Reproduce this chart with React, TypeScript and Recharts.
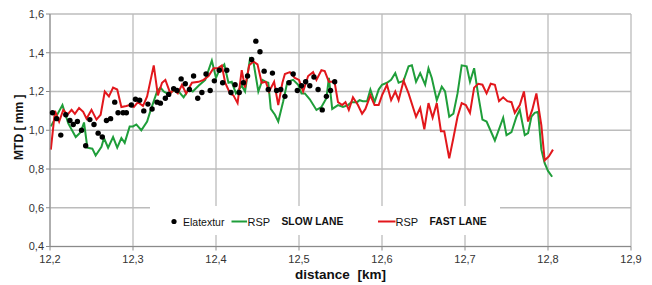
import React from 'react';
import { ComposedChart, Line, Scatter, XAxis, YAxis, CartesianGrid, Legend } from 'recharts';

const FONT = '"Liberation Sans", Arial, sans-serif';

// x-axis / y-axis ticks
const xTicks = [12.2, 12.3, 12.4, 12.5, 12.6, 12.7, 12.8, 12.9];
const yTicks = [0.4, 0.6, 0.8, 1.0, 1.2, 1.4, 1.6];

// RSP SLOW LANE (green)
const slowDist = [
  12.201, 12.215, 12.222, 12.231, 12.237, 12.241, 12.245, 12.251, 12.255, 12.262,
  12.265, 12.270, 12.276, 12.281, 12.286, 12.290, 12.296, 12.300, 12.304, 12.310,
  12.317, 12.321, 12.329, 12.333, 12.337, 12.341, 12.347, 12.353, 12.361, 12.367,
  12.372, 12.379, 12.387, 12.395, 12.400, 12.404, 12.410, 12.415, 12.419, 12.424,
  12.431, 12.435, 12.441, 12.445, 12.451, 12.456, 12.460, 12.463, 12.466, 12.471,
  12.475, 12.481, 12.486, 12.493, 12.499, 12.503, 12.507, 12.513, 12.521, 12.527,
  12.533, 12.536, 12.540, 12.547, 12.553, 12.559, 12.563, 12.570, 12.573, 12.577,
  12.582, 12.586, 12.591, 12.596, 12.600, 12.606, 12.611, 12.616, 12.620, 12.626,
  12.632, 12.636, 12.641, 12.646, 12.652, 12.656, 12.660, 12.666, 12.672, 12.676,
  12.681, 12.686, 12.691, 12.696, 12.702, 12.706, 12.711, 12.716, 12.721, 12.726,
  12.736, 12.746, 12.750, 12.756, 12.762, 12.766, 12.772, 12.776, 12.780, 12.784,
  12.788, 12.792, 12.796, 12.800, 12.805,
];
const slowMtd = [
  1.02, 1.13, 1.035, 0.965, 0.99, 1.04, 0.91, 0.905, 0.87, 0.915,
  0.96, 0.91, 0.965, 0.91, 0.96, 0.935, 1.02, 1.02, 1.03, 1.0,
  1.045, 1.1, 1.2, 1.22, 1.2, 1.19, 1.2, 1.21, 1.17, 1.21,
  1.2, 1.23, 1.26, 1.36, 1.27, 1.31, 1.34, 1.245, 1.25, 1.19,
  1.23, 1.2, 1.37, 1.355, 1.2, 1.26, 1.25, 1.245, 1.11, 1.08,
  1.045, 1.15, 1.25, 1.26, 1.235, 1.19, 1.19, 1.16, 1.105, 1.12,
  1.165, 1.27, 1.11, 1.13, 1.12, 1.13, 1.145, 1.145, 1.155, 1.15,
  1.15, 1.21, 1.145, 1.21, 1.235, 1.245, 1.26, 1.295, 1.245, 1.255,
  1.33, 1.335, 1.25, 1.295, 1.235, 1.32, 1.27, 1.155, 1.225, 1.2,
  1.07, 1.085, 1.19, 1.335, 1.33, 1.25, 1.32, 1.18, 1.055, 1.045,
  0.947, 1.065, 0.975, 0.99, 1.07, 1.105, 0.975, 0.985, 1.07, 1.09,
  1.095, 0.9, 0.83, 0.79, 0.76,
];

// RSP FAST LANE (red)
const fastDist = [
  12.201, 12.206, 12.211, 12.216, 12.221, 12.226, 12.230, 12.235, 12.240, 12.244,
  12.250, 12.256, 12.261, 12.266, 12.271, 12.276, 12.281, 12.286, 12.292, 12.296,
  12.301, 12.306, 12.312, 12.317, 12.325, 12.330, 12.335, 12.339, 12.345, 12.349,
  12.354, 12.359, 12.364, 12.371, 12.379, 12.385, 12.391, 12.397, 12.402, 12.407,
  12.411, 12.417, 12.421, 12.426, 12.431, 12.435, 12.440, 12.445, 12.450, 12.455,
  12.460, 12.464, 12.470, 12.475, 12.480, 12.483, 12.489, 12.495, 12.500, 12.505,
  12.511, 12.517, 12.521, 12.527, 12.531, 12.536, 12.540, 12.543, 12.547, 12.552,
  12.556, 12.560, 12.565, 12.571, 12.576, 12.580, 12.586, 12.591, 12.596, 12.600,
  12.606, 12.611, 12.616, 12.620, 12.626, 12.632, 12.641, 12.646, 12.651, 12.656,
  12.661, 12.666, 12.671, 12.675, 12.681, 12.686, 12.691, 12.696, 12.701, 12.706,
  12.711, 12.716, 12.721, 12.726, 12.731, 12.736, 12.741, 12.746, 12.751, 12.756,
  12.760, 12.766, 12.771, 12.776, 12.781, 12.786, 12.792, 12.796, 12.801, 12.806,
];
const fastMtd = [
  0.9, 1.1, 1.045, 1.105, 1.08, 1.105, 1.085, 1.115, 1.095, 1.06,
  1.105, 1.055, 1.08, 1.2, 1.175, 1.22, 1.21, 1.12, 1.125, 1.13,
  1.12, 1.145, 1.125, 1.175, 1.335, 1.18, 1.245, 1.26, 1.19, 1.21,
  1.19, 1.235, 1.19, 1.245, 1.25, 1.26, 1.28, 1.32, 1.32, 1.335,
  1.245, 1.19, 1.18, 1.14, 1.31, 1.22, 1.335, 1.355, 1.34, 1.245,
  1.25, 1.2, 1.25, 1.13, 1.245, 1.29, 1.3, 1.27, 1.26, 1.2,
  1.28, 1.3, 1.26, 1.31, 1.305, 1.25, 1.25, 1.245, 1.145, 1.13,
  1.145, 1.105, 1.17, 1.13, 1.085, 1.11, 1.18, 1.13, 1.13, 1.18,
  1.235, 1.155, 1.2, 1.155, 1.255, 1.19, 1.07, 1.115, 1.005, 1.14,
  1.065, 1.14, 0.995, 0.995, 0.855, 0.96, 1.07, 1.14, 1.13, 1.09,
  1.22, 1.24, 1.235, 1.19, 1.24, 1.235, 1.15, 1.17, 1.15, 1.145,
  1.09, 1.13, 1.2, 1.045, 1.105, 1.19, 1.025, 0.845, 0.865, 0.9,
];

// Elatextur (black dots)
const elaDist = [
  12.203, 12.208, 12.213, 12.219, 12.224, 12.228, 12.233, 12.238, 12.243, 12.248,
  12.253, 12.258, 12.263, 12.268, 12.273, 12.278, 12.282, 12.288, 12.292, 12.298,
  12.303, 12.308, 12.313, 12.318, 12.323, 12.329, 12.333, 12.339, 12.343, 12.349,
  12.353, 12.358, 12.363, 12.368, 12.373, 12.378, 12.383, 12.388, 12.393, 12.398,
  12.404, 12.408, 12.413, 12.418, 12.423, 12.428, 12.433, 12.438, 12.443, 12.448,
  12.453, 12.458, 12.463, 12.468, 12.473, 12.478, 12.483, 12.488, 12.493, 12.498,
  12.503, 12.508, 12.513, 12.518, 12.523, 12.528, 12.533, 12.538, 12.543,
];
const elaMtd = [
  1.09, 1.06, 0.975, 1.08, 1.05, 1.03, 1.045, 1.0, 0.92, 1.055,
  1.03, 0.985, 0.965, 1.05, 1.06, 1.145, 1.09, 1.09, 1.09, 1.13,
  1.16, 1.155, 1.1, 1.135, 1.11, 1.145, 1.14, 1.165, 1.185, 1.215,
  1.205, 1.265, 1.24, 1.21, 1.28, 1.165, 1.195, 1.29, 1.205, 1.255,
  1.31, 1.245, 1.31, 1.195, 1.235, 1.195, 1.245, 1.28, 1.365, 1.46,
  1.405, 1.305, 1.21, 1.295, 1.205, 1.21, 1.175, 1.245, 1.29, 1.205,
  1.23, 1.25, 1.23, 1.275, 1.21, 1.105, 1.175, 1.205, 1.25,
];

const GREEN = '#1f9e3a';
const RED = '#e2171c';

const fmt = (v: number) => v.toFixed(1).replace('.', ',');

function LegendBox() {
  return (
    <svg width={350} height={29} style={{ display: 'block', background: '#fff' }}>
      <circle cx={24} cy={15.5} r={2.6} fill="#000" />
      <text x={33} y={19.5} fontSize={10.5} fontFamily={FONT} fill="#111">Elatextur</text>
      <line x1={81.5} y1={15.5} x2={97} y2={15.5} stroke={GREEN} strokeWidth={2} />
      <text x={97.5} y={19.5} fontSize={11} fontFamily={FONT} fill="#111">RSP</text>
      <text x={131.5} y={19} fontSize={10.3} fontWeight="bold" fontFamily={FONT} fill="#111">SLOW LANE</text>
      <line x1={228} y1={15.5} x2={245.5} y2={15.5} stroke={RED} strokeWidth={2} />
      <text x={245.5} y={19.5} fontSize={11} fontFamily={FONT} fill="#111">RSP</text>
      <text x={279.5} y={19} fontSize={10.3} fontWeight="bold" fontFamily={FONT} fill="#111">FAST LANE</text>
    </svg>
  );
}

export default function App() {
  const slowData = slowDist.map((d, i) => ({ d, v: slowMtd[i] }));
  const fastData = fastDist.map((d, i) => ({ d, v: fastMtd[i] }));
  const elaData = elaDist.map((d, i) => ({ d, v: elaMtd[i] }));

  return (
    <div style={{ position: 'relative', width: 652, height: 285, background: '#fff' }}>
      <style>{`body{margin:0;}`}</style>
      <ComposedChart width={652} height={285} margin={{ top: 14, right: 21, bottom: 0, left: 0 }}>
        <CartesianGrid stroke="#bcbcbc" strokeWidth={1.3} />
        <XAxis
          dataKey="d"
          type="number"
          domain={[12.2, 12.9]}
          ticks={xTicks}
          interval={0}
          tickFormatter={fmt}
          height={38.5}
          tickSize={4}
          tickMargin={5}
          stroke="#8a8a8a"
          tick={{ fill: '#333', fontSize: 11, fontFamily: FONT }}
          label={(props: any) => {
            const vb = props.viewBox;
            return (
              <text
                x={vb.x + vb.width / 2}
                y={vb.y + 32.5}
                textAnchor="middle"
                fontSize={13.5}
                fontWeight="bold"
                fontFamily={FONT}
                fill="#111"
                style={{ whiteSpace: 'pre' }}
              >
                {'distance  [km]'}
              </text>
            );
          }}
        />
        <YAxis
          dataKey="v"
          type="number"
          domain={[0.4, 1.6]}
          ticks={yTicks}
          interval={0}
          tickFormatter={fmt}
          width={50}
          tickSize={4}
          tickMargin={2}
          stroke="#8a8a8a"
          tick={{ fill: '#333', fontSize: 11, fontFamily: FONT }}
          label={(props: any) => {
            const vb = props.viewBox;
            const cx = vb.x + 19;
            const cy = vb.y + vb.height / 2 - 3;
            return (
              <text
                x={cx}
                y={cy}
                transform={`rotate(-90 ${cx} ${cy})`}
                textAnchor="middle"
                dominantBaseline="central"
                fontSize={12}
                fontWeight="bold"
                fontFamily={FONT}
                fill="#111"
              >
                MTD [ mm ]
              </text>
            );
          }}
        />
        <Line
          data={slowData}
          dataKey="v"
          type="linear"
          stroke={GREEN}
          strokeWidth={2}
          dot={false}
          activeDot={false}
          isAnimationActive={false}
          name="RSP SLOW LANE"
        />
        <Line
          data={fastData}
          dataKey="v"
          type="linear"
          stroke={RED}
          strokeWidth={2}
          dot={false}
          activeDot={false}
          isAnimationActive={false}
          name="RSP FAST LANE"
        />
        <Scatter
          data={elaData}
          dataKey="v"
          fill="#000"
          isAnimationActive={false}
          name="Elatextur"
          shape={(p: any) => <circle cx={p.cx} cy={p.cy} r={2.7} fill="#000" />}
        />
        <Legend
          layout="horizontal"
          verticalAlign="middle"
          align="center"
          wrapperStyle={{ left: 150, top: 206, width: 350, height: 29 }}
          content={() => <LegendBox />}
        />
      </ComposedChart>
    </div>
  );
}
